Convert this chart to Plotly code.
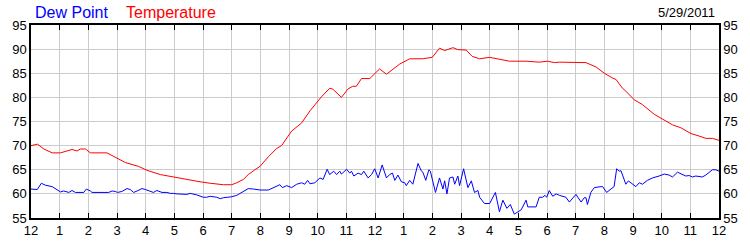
import plotly.graph_objects as go

# Hours after midnight, 5/29/2011
temp_hours = [0.00, 0.23, 0.45, 0.74, 1.03, 1.43, 1.61, 1.72, 1.90, 2.07, 2.65, 3.00, 3.29, 3.75,
              4.04, 4.51, 4.97, 5.44, 5.90, 6.25, 6.71, 7.00, 7.18, 7.41, 7.58, 7.81, 7.99, 8.28,
              8.57, 8.74, 8.92, 9.09, 9.44, 9.73, 10.13, 10.42, 10.53, 10.83, 11.05, 11.22, 11.35,
              11.53, 11.82, 12.16, 12.40, 12.86, 13.21, 13.66, 14.00, 14.25, 14.43, 14.72, 14.89,
              15.18, 15.39, 15.65, 16.00, 16.34, 16.69, 17.27, 17.73, 18.02, 18.26, 18.43, 19.36,
              19.71, 20.00, 20.29, 20.41, 20.63, 20.75, 21.04, 21.33, 21.74, 22.03, 22.38, 22.67,
              23.02, 23.30, 23.54, 23.77, 24.00]
temperature = [70.0, 70.3, 69.3, 68.5, 68.5, 69.2, 68.9, 69.3, 69.3, 68.5, 68.5, 67.5, 66.5, 65.7,
               64.9, 64.0, 63.5, 62.9, 62.5, 62.2, 61.9, 61.9, 62.3, 63.0, 64.0, 65.0, 65.7, 67.7,
               69.4, 70.0, 71.5, 73.0, 74.7, 77.2, 80.1, 81.9, 81.7, 80.0, 81.7, 82.3, 82.3,
               83.9, 83.9, 85.9, 84.8, 86.9, 88.0, 88.0, 88.3, 90.2, 89.7, 90.3, 89.9,
               89.8, 88.5, 88.0, 88.3, 87.9, 87.5, 87.5, 87.3, 87.5, 87.2, 87.3, 87.2,
               86.3, 85.0, 84.0, 83.7, 81.9, 81.3, 79.5, 78.5, 76.5, 75.5, 74.3, 73.7,
               72.5, 72.0, 71.5, 71.5, 71.1]

dew_hours = [0.00, 0.22, 0.36, 0.50, 0.74, 0.91, 1.03, 1.14, 1.32, 1.43, 1.55, 1.84, 1.93, 2.07,
             2.13, 2.71, 2.83, 2.94, 3.02, 3.17, 3.35, 3.46, 3.58, 3.70, 3.87, 3.99, 4.16, 4.27,
             4.39, 4.57, 4.74, 4.86, 4.97, 5.09, 5.44, 5.55, 5.78, 6.01, 6.13, 6.25, 6.48, 6.60,
             6.71, 7.00, 7.18, 7.41, 7.58, 7.76, 7.99, 8.28, 8.45, 8.68, 8.77, 8.92, 9.09, 9.27,
             9.44, 9.55, 9.65, 9.73, 9.90, 10.08, 10.19, 10.33, 10.42, 10.56, 10.66, 10.77, 10.83,
             11.01, 11.12, 11.18, 11.26, 11.41, 11.53, 11.61, 11.76, 11.88, 11.99, 12.11, 12.25,
             12.40, 12.51, 12.61, 12.69, 12.80, 12.92, 13.04, 13.09, 13.21, 13.32, 13.50, 13.62,
             13.67, 13.77, 13.88, 13.93, 14.11, 14.25, 14.37, 14.43, 14.51, 14.60, 14.72, 14.78,
             14.89, 14.95, 15.09, 15.24, 15.36, 15.47, 15.59, 15.65, 15.82, 16.00, 16.20, 16.34,
             16.46, 16.60, 16.72, 16.86, 16.98, 17.10, 17.27, 17.33, 17.62, 17.73, 17.85, 17.93,
             17.99, 18.08, 18.20, 18.32, 18.43, 18.66, 18.78, 19.01, 19.19, 19.30, 19.36, 19.41,
             19.53, 19.65, 19.88, 19.94, 20.08, 20.34, 20.43, 20.52, 20.58, 20.75, 20.84, 21.10,
             21.22, 21.33, 21.50, 21.68, 21.91, 22.09, 22.26, 22.38, 22.55, 22.73, 22.84, 22.96,
             23.07, 23.19, 23.42, 23.54, 23.77, 23.89, 24.00]
dew_point = [61.0, 60.9, 62.2, 61.8, 61.5, 60.8, 60.4, 60.6, 60.3, 60.7, 60.3, 60.3, 61.0, 60.6,
             60.3, 60.3, 60.6, 60.5, 60.3, 60.5, 61.1, 60.9, 60.3, 60.6, 61.1, 60.9, 60.5, 60.3,
             60.7, 60.3, 60.3, 60.1, 60.1, 60.0, 59.9, 60.1, 59.8, 59.3, 59.3, 59.5, 59.3, 59.0,
             59.2, 59.4, 59.7, 60.5, 61.1, 61.0, 60.8, 60.8, 61.2, 61.9, 61.3, 61.7, 61.3, 62.0,
             62.3, 62.0, 62.8, 62.1, 62.3, 63.3, 63.0, 65.1, 64.0, 64.7, 64.0, 64.7, 64.1,
             65.1, 64.3, 64.7, 63.7, 64.3, 64.0, 64.7, 63.3, 64.0, 65.2, 63.3, 66.0,
             63.3, 64.0, 64.3, 62.8, 63.9, 62.5, 62.3, 61.7, 62.8, 62.0, 66.3, 64.7,
             64.5, 62.8, 65.0, 64.7, 60.3, 63.3, 61.0, 62.7, 60.0, 63.3, 63.5, 62.0,
             63.7, 61.7, 65.2, 61.3, 62.7, 60.3, 60.7, 59.3, 58.0, 58.0, 60.3, 56.3,
             58.7, 57.0, 57.8, 55.8, 56.3, 56.7, 58.7, 57.3, 57.3, 59.3, 59.3, 59.7,
             59.3, 60.7, 59.5, 60.0, 59.7, 59.3, 58.3, 59.9, 58.3, 59.2, 59.2, 57.8,
             60.3, 61.3, 61.5, 61.5, 60.3, 61.5, 65.2, 64.7, 64.8, 62.0, 62.7, 61.5,
             62.3, 62.0, 62.8, 63.3, 63.7, 64.1, 63.9, 63.5, 64.5, 63.9, 63.7, 63.8,
             63.5, 63.7, 63.5, 63.9, 65.0, 65.0, 64.7]

x_tickvals = list(range(0, 25))
x_ticktext = ["12", "1", "2", "3", "4", "5", "6", "7", "8", "9", "10", "11",
              "12", "1", "2", "3", "4", "5", "6", "7", "8", "9", "10", "11", "12"]
y_tickvals = [55, 60, 65, 70, 75, 80, 85, 90, 95]
date_label = "5/29/2011"

FONT = "Liberation Sans, Arial, sans-serif"

fig = go.Figure()
fig.add_trace(go.Scatter(x=temp_hours, y=temperature, mode="lines", name="Temperature",
                         line=dict(color="#ff0000", width=1), yaxis="y"))
fig.add_trace(go.Scatter(x=dew_hours, y=dew_point, mode="lines", name="Dew Point",
                         line=dict(color="#0000ff", width=1), yaxis="y2"))

axis_common = dict(showline=True, linecolor="black", linewidth=1.5,
                   tickfont=dict(family=FONT, size=13, color="black"))

fig.update_layout(
    width=750, height=250,
    margin=dict(l=31, r=30, t=25, b=25),
    plot_bgcolor="white", paper_bgcolor="white",
    showlegend=False,
    xaxis=dict(range=[0, 24], tickvals=x_tickvals, ticktext=x_ticktext,
               ticks="inside", ticklen=5, tickcolor="black", tickwidth=1,
               showgrid=True, gridcolor="#cccccc", gridwidth=1,
               mirror="ticks", zeroline=False, **axis_common),
    yaxis=dict(range=[55, 95], tickvals=y_tickvals, showgrid=True,
               gridcolor="#cccccc", gridwidth=1, zeroline=False, ticks="",
               mirror=True, **axis_common),
    yaxis2=dict(range=[55, 95], tickvals=y_tickvals, overlaying="y", side="right",
                showgrid=False, zeroline=False, ticks="", **axis_common),
    annotations=[
        dict(text="Dew Point", x=33, y=12, xref="paper", yref="paper", showarrow=False,
             font=dict(family=FONT, size=16, color="#0000ff"), xanchor="left", yanchor="middle"),
        dict(text="Temperature", x=124, y=12, xref="paper", yref="paper", showarrow=False,
             font=dict(family=FONT, size=16, color="#ff0000"), xanchor="left", yanchor="middle"),
        dict(text=date_label, x=718, y=12, xref="paper", yref="paper", showarrow=False,
             font=dict(family=FONT, size=13, color="black"), xanchor="right", yanchor="middle"),
    ],
)

# convert pixel positions of the header annotations into paper coordinates
pw = 750 - 31 - 30
ph = 250 - 25 - 25
for a in fig.layout.annotations:
    a.x = (a.x - 31) / pw
    a.y = (250 - 25 - a.y) / ph

fig.write_html("out.html")
